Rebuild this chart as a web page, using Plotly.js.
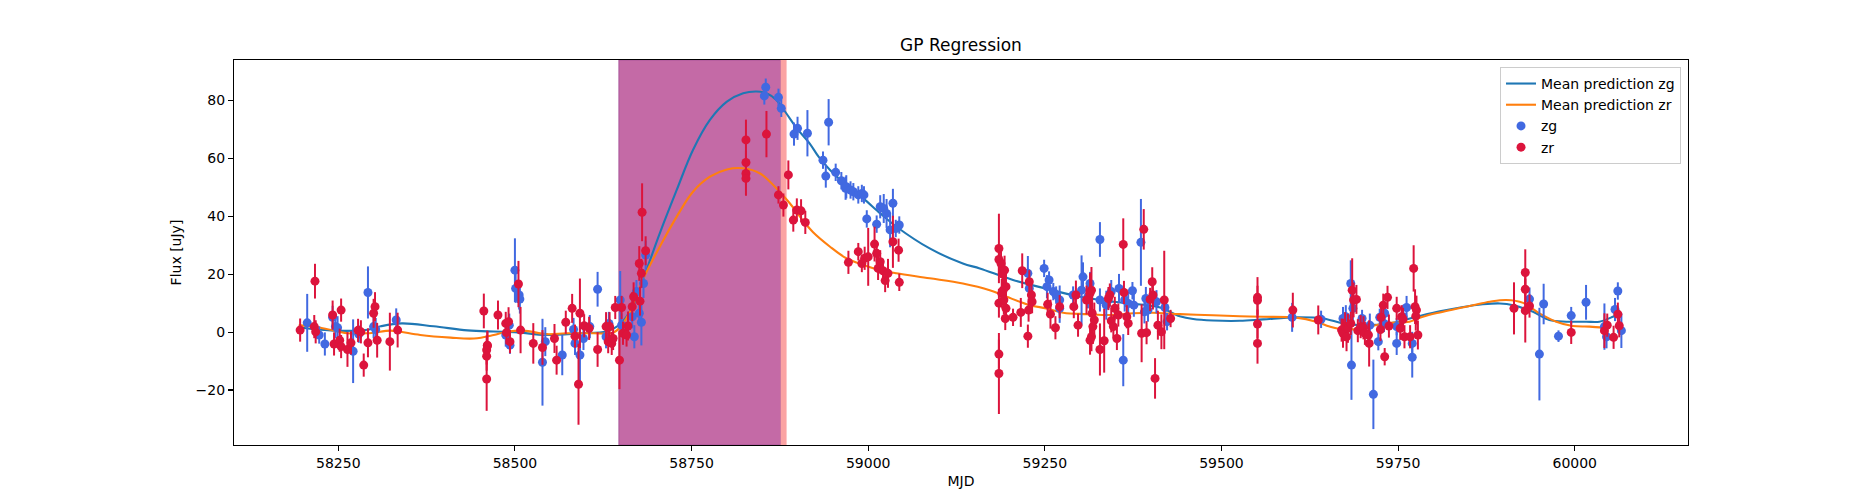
<!DOCTYPE html>
<html>
<head>
<meta charset="utf-8">
<script src="https://cdn.plot.ly/plotly-3.0.1.min.js"></script>
<style>html,body{margin:0;padding:0;background:#fff;}#chart{width:1875px;height:500px;}</style>
</head>
<body>
<div id="chart"></div>
<script>
// ---- GP mean curves ----
const zgCurveMjd = [58199,58244,58291,58310,58340,58385,58433,58470,58500,58545,58592,58630,58650,58667,58682,58705,58729,58752,58776,58800,58823,58842,58856,58870,58884,58899,58917,58930,58946,58969,58993,59017,59040,59087,59134,59158,59205,59252,59300,59347,59394,59413,59441,59460,59488,59526,59559,59606,59644,59672,59700,59738,59776,59809,59840,59870,59894,59913,59941,59964,59988,60016,60035,60054,60060];
const zgCurveVal = [1.5,0.5,0.8,2.0,3.0,2.0,0.6,0.2,0.0,-1.0,-0.4,0.3,3.0,9.0,18.6,34.1,49.1,62.9,73.3,79.6,82.5,83.1,82.5,80.2,75.6,70.4,65.2,60.5,56.0,50.8,46.2,41.0,36.4,28.9,23.7,22.0,18.0,15.0,12.2,10.5,9.3,8.5,5.5,4.5,4.0,3.9,4.4,5.1,4.7,3.0,2.4,3.0,5.3,7.2,8.6,9.6,9.9,9.3,7.0,4.2,3.6,3.6,3.6,5.3,6.0];

const zrCurveMjd = [58194,58225,58263,58291,58324,58338,58366,58409,58442,58470,58488,58512,58545,58573,58611,58639,58650,58667,58682,58705,58729,58752,58776,58800,58823,58847,58870,58889,58908,58922,58946,58969,58993,59017,59040,59087,59134,59172,59196,59229,59252,59276,59309,59347,59375,59403,59441,59488,59526,59559,59606,59634,59653,59672,59700,59729,59766,59785,59809,59856,59880,59903,59927,59950,59974,59997,60021,60042];
const zrCurveVal = [2.4,1.5,-0.4,-0.4,0.5,0.1,-1.0,-1.9,-2.2,-1.0,0.1,0.5,-0.7,-0.4,-0.4,-0.2,2.0,9.0,18.6,29.5,39.9,48.5,53.7,56.2,56.6,54.8,49.7,44.5,38.5,34.5,29.5,25.5,23.2,21.4,20.3,18.6,16.8,14.5,12.2,9.3,8.2,6.7,6.2,5.9,6.5,6.7,6.2,5.8,5.5,5.3,5.0,3.6,1.9,0.9,1.3,3.0,3.6,5.3,6.8,9.3,10.5,11.1,10.1,6.5,3.6,2.1,1.9,1.5];

// ---- zg observations ----
const zgMjd = [58206,58223,58231,58242,58246,58249,58271,58279,58292,58300,58303,58332,
58487,58492,58493,58500,58501,58506,58507,58539,58543,58567,58583,58585,58592,58597,58606,58617,58629,58633,58649,58651,58666,58669,58672,58676,58679,58682,58685,
58853,58855,58873,58877,58895,58900,58914,58944,58936,58940,58954,58962,58968,58969,58975,58979,58986,58991,58994,58998,59012,59017,59022,59026,59035,59031,59039,59044,
59226,59228,59249,59256,59253,59262,59266,59271,59271,59290,59304,59302,59314,59311,59328,59328,59337,59344,59355,59361,59363,59368,59374,59376,59386,59393,59391,59396,59408,59420,59423,
59600,59641,59672,59676,59683,59686,59684,59699,59710,59715,59722,59724,59730,59731,59748,59748,59762,59770,59770,59757,
59936,59950,59956,59977,59995,60016,60042,60045,60057,60061,60066];
const zgFlux = [3.2,-1.0,-4.1,5.1,1.9,1.5,-6.6,-0.7,13.7,1.9,0.9,4.2,
-1.0,2.4,-4.5,21.4,15.1,12.8,11.4,-10.4,-3.3,-7.9,0.9,-3.9,-7.9,-2.2,1.9,14.8,-1.6,3.0,11.1,2.4,5.3,-1.6,14.0,6.5,3.4,16.8,26.6,
81.6,84.6,81.1,77.3,68.4,70.4,68.7,72.5,59.4,53.9,55.2,52.3,49.7,50.2,49.1,48.5,47.4,47.9,47.4,39.1,37.3,43.3,42.7,41.0,44.5,35.3,35.8,37.0,
20.3,15.1,22.0,18.0,15.7,14.0,12.8,11.1,8.2,12.8,19.1,14.5,16.8,12.2,32.0,11.1,9.3,14.0,15.1,-9.7,11.1,9.9,14.3,9.3,31.0,11.6,7.0,7.6,10.5,8.5,3.6,
5.1,4.4,4.7,5.3,16.8,8.2,-11.4,4.7,2.4,-21.5,-3.3,5.1,3.0,6.5,-3.9,1.9,8.5,-8.7,-3.9,5.3,
11.4,-7.6,9.7,-1.4,5.7,10.3,1.9,-1.6,7.8,14.2,0.5];
const zgErr = [10,3,4,4,4,4,11,3,9,4,4,4,
4,4,3,11,5,5,5,15,5,7,4,4,10,4,4,6,4,4,10,4,4,4,4,4,8,5,5,
3,3,3,3,4,4,8,8,3,4,3,3,4,4,3,3,3,3,3,3,3,4,5,5,5,6,3,3,
6,4,3,3,4,3,3,5,5,3,5,12,4,4,6,4,5,4,5,9,4,4,3,4,15,4,4,4,4,4,3,
5,3,4,4,8,5,12,3,4,12,3,3,3,4,4,3,4,7,4,4,
4,16,7,2,3,6,8,4,4,3,6];

// ---- zr observations ----
const zrMjd = [58196,58217,58216,58218,58242,58254,58244,58252,58254,58263,58268,58278,58282,58286,58292,58300,58302,58305,58323,58334,58456,58461,58461,58460,58460,58460,
58476,58487,58491,58488,58493,58505,58508,58526,58539,58556,58559,58572,58581,58585,58590,58592,58598,58605,58617,58629,58634,58632,58637,58639,58642,58651,58648,58653,58658,58660,58666,58668,58677,58676,58679,58680,58685,
58827,58827,58827,58827,58856,58887,58873,58880,58894,58899,58905,58911,58972,58986,58991,58995,59000,59009,59012,59017,59014,59021,59028,59024,59035,59043,59044,
59185,59185,59185,59185,59185,59188,59190,59193,59195,59191,59189,59192,59195,59194,59205,59216,59218,59228,59231,59232,59227,59226,59254,59258,59265,59271,59294,59291,59297,59309,59314,59316,59317,59320,59318,59316,59314,59328,59334,59340,59342,59344,59347,59349,59354,59352,59361,59362,59366,59368,59387,59394,59390,59399,59402,59403,59410,59415,59406,59419,59428,
59551,59551,59551,59551,59601,59637,59670,59672,59675,59677,59679,59683,59685,59687,59691,59693,59697,59701,59703,59708,59709,59726,59729,59731,59735,59725,59737,59748,59755,59757,59753,59759,59767,59772,59774,59776,59775,59778,
59914,59930,59930,59930,59936,59995,60042,60046,60055,60061,60063];
const zrFlux = [0.7,17.6,1.9,0.1,5.9,7.6,-4.1,-2.8,-5.0,-6.0,-3.7,0.6,0.1,-11.4,-3.7,6.5,8.8,-2.8,-3.3,0.7,7.3,-4.5,-4.8,-6.2,-8.3,-16.2,
5.9,3.0,3.6,-0.2,-3.3,16.6,0.7,-3.9,-5.3,-2.2,-9.7,3.4,8.2,-1.4,-18.0,6.5,2.2,1.3,-6.0,1.9,1.9,-3.3,-3.9,-2.2,8.5,8.5,-9.7,-0.4,-1.0,2.1,8.8,12.2,10.7,23.7,20.3,41.4,28.1,
66.4,58.6,54.8,53.1,68.4,54.3,47.4,43.9,38.7,42.2,41.9,37.9,24.1,27.8,23.7,25.5,26.0,30.4,27.2,24.3,22.0,21.2,20.3,17.8,31.2,28.3,17.2,
28.9,25.1,10.0,-7.6,-14.3,23.7,20.3,21.4,15.7,14.5,13.4,11.1,8.2,4.7,5.1,6.8,21.2,17.4,12.8,10.5,7.6,-1.4,9.6,6.2,1.5,8.8,12.8,8.8,2.4,11.1,13.4,14.5,6.5,4.2,1.9,-1.6,-2.8,-6.0,-3.0,11.6,12.8,3.9,1.9,8.2,5.9,-2.2,30.3,13.7,5.3,3.0,-0.4,-0.2,35.5,11.3,17.4,12.8,2.4,0.1,-16.0,11.1,4.7,
12.0,11.0,2.8,-3.9,7.6,4.2,0.7,-0.4,1.9,-1.6,1.3,3.0,14.5,11.1,11.3,0.5,1.9,1.5,-0.4,-1.0,-3.9,5.1,9.3,-8.5,12.0,0.9,2.1,8.2,5.3,4.4,1.3,-1.6,-1.6,22.0,8.8,7.6,5.5,-1.0,
8.2,20.6,14.8,7.4,9.0,-0.1,0.5,2.4,-1.8,6.2,2.2];
const zrErr = [4,6,4,4,5,4,4,4,4,6,4,4,4,4,5,5,5,6,10,6,6,5,5,5,5,11,
5,4,5,4,4,8,8,7,6,5,5,4,5,4,14,12,4,4,6,5,5,4,4,4,4,4,10,4,4,5,5,5,5,6,5,10,5,
7,4,4,6,8,5,3,4,4,4,4,4,4,3,3,4,10,6,4,4,4,4,5,4,9,4,3,
12,5,5,5,14,5,5,5,5,5,5,5,5,4,3,5,6,4,4,4,4,4,4,5,4,4,5,4,4,5,7,8,6,6,6,5,5,9,11,4,4,4,4,4,4,4,9,4,4,4,10,4,7,4,5,5,5,6,7,17,3,
7,5,5,7,6,5,4,5,5,5,5,4,11,6,5,4,4,4,4,4,8,4,4,3,4,4,4,4,4,4,4,4,4,8,6,5,5,5,
9,8,6,11,4,4,6,4,4,4,4];

// ---- shaded intervals (MJD) ----
const spanMain = [58647.2, 58876.0];
const spanEdge = [58876.0, 58884.5];

const traces = [
  {x: zgCurveMjd, y: zgCurveVal, type: 'scatter', mode: 'lines', name: 'Mean prediction zg',
   line: {color: '#1f77b4', width: 2.1, shape: 'spline', smoothing: 1}},
  {x: zrCurveMjd, y: zrCurveVal, type: 'scatter', mode: 'lines', name: 'Mean prediction zr',
   line: {color: '#ff7f0e', width: 2.1, shape: 'spline', smoothing: 1}},
  {x: zgMjd, y: zgFlux, type: 'scatter', mode: 'markers', name: 'zg',
   marker: {color: '#4169e1', size: 9},
   error_y: {type: 'data', array: zgErr, visible: true, color: '#4169e1', thickness: 2, width: 0}},
  {x: zrMjd, y: zrFlux, type: 'scatter', mode: 'markers', name: 'zr',
   marker: {color: '#dc143c', size: 9},
   error_y: {type: 'data', array: zrErr, visible: true, color: '#dc143c', thickness: 2, width: 0}}
];

const font = {family: 'DejaVu Sans', size: 14, color: '#000'};

const layout = {
  width: 1875, height: 500,
  margin: {l: 234, r: 187, t: 60, b: 55},
  paper_bgcolor: '#fff', plot_bgcolor: '#fff',
  font: font,
  title: {text: 'GP Regression', x: 0.5, xref: 'paper', y: 0.91, yref: 'container', yanchor: 'middle',
          font: {family: 'DejaVu Sans', size: 17, color: '#000'}},
  xaxis: {range: [58102.4, 60160.3], showgrid: false, zeroline: false,
          showline: true, mirror: true, linecolor: '#000', linewidth: 1.1,
          ticks: 'outside', ticklen: 5, tickwidth: 1.1, tickcolor: '#000',
          tickmode: 'array', tickvals: [58250,58500,58750,59000,59250,59500,59750,60000],
          ticktext: ['58250','58500','58750','59000','59250','59500','59750','60000'],
          tickfont: font,
          title: {text: 'MJD', font: font, standoff: 6}},
  yaxis: {range: [-39.0, 94.0], showgrid: false, zeroline: false,
          showline: true, mirror: true, linecolor: '#000', linewidth: 1.1,
          ticks: 'outside', ticklen: 5, tickwidth: 1.1, tickcolor: '#000',
          tickmode: 'array', tickvals: [-20,0,20,40,60,80],
          ticktext: ['\u221220','0','20','40','60','80'],
          tickfont: font,
          title: {text: 'Flux [uJy]', font: font, standoff: 10}},
  shapes: [
    {type: 'rect', xref: 'x', yref: 'paper', x0: spanMain[0], x1: spanMain[1], y0: 0, y1: 1,
     fillcolor: '#c46aa6', line: {color: '#a9559a', width: 1}, layer: 'below'},
    {type: 'rect', xref: 'x', yref: 'paper', x0: spanEdge[0], x1: spanEdge[1], y0: 0, y1: 1,
     fillcolor: '#fba3a3', line: {width: 0}, layer: 'below'}
  ],
  legend: {x: 0.9952, y: 0.982, xanchor: 'right', yanchor: 'top',
           bgcolor: 'rgba(255,255,255,0.8)', bordercolor: '#cccccc', borderwidth: 1,
           font: font, tracegroupgap: 0},
  showlegend: true
};

Plotly.newPlot('chart', traces, layout, {displayModeBar: false, staticPlot: true});
</script>
</body>
</html>
